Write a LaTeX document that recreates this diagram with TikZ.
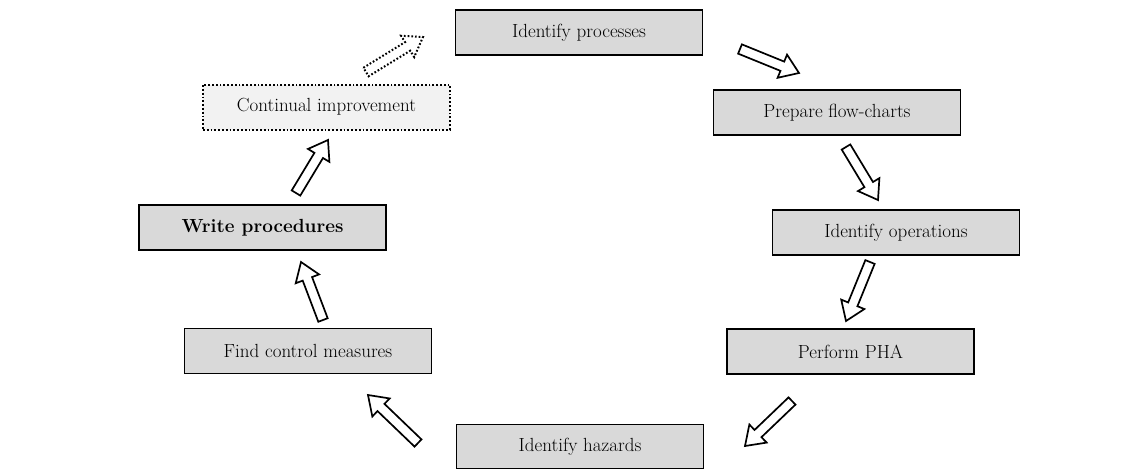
\documentclass[tikz,border=0pt]{standalone}
\usetikzlibrary{calc}
\definecolor{boxgray}{HTML}{D9D9D9}
\definecolor{lightbox}{HTML}{F2F2F2}
\tikzset{
  box/.style={draw=black, line width=1.8pt, fill=boxgray, font=\fontsize{19}{22}\selectfont, inner sep=0pt,
    minimum width=247pt, minimum height=45pt},
  arr/.style={draw=black, line width=1.7pt, fill=white, line join=miter},
  dotarr/.style={dotted, line width=2pt}
}
\newcommand\myarrow[3][]{%
  \path ($(#3)!18pt!(#2)$) coordinate (hh);
  \draw[arr,#1] ($(#2)!5pt!90:(#3)$) -- ($(hh)!5pt!90:(#3)$) -- ($(hh)!12.5pt!90:(#3)$) -- (#3)
    -- ($(hh)!12.5pt!-90:(#3)$) -- ($(hh)!5pt!-90:(#3)$) -- ($(#2)!5pt!-90:(#3)$) -- cycle;}
\begin{document}
\begin{tikzpicture}[x=1pt,y=-1pt]
\useasboundingbox (0,0) rectangle (1143,469);
% boxes
\node[box] (proc) at (579,32.5) {Identify processes};
\node[box] (flow) at (837,112.5) {Prepare flow-charts};
\node[box] (ops) at (896,232.5) {Identify operations};
\node[box] (pha) at (850.5,351.5) {Perform PHA};
\node[box, minimum height=44pt] (haz) at (580,446.5) {Identify hazards};
\node[box] (find) at (308,351) {Find control measures};
\node[box, font=\fontsize{19}{22}\selectfont\bfseries] (write) at (262.5,227.5) {Write procedures};
\node[box, dotted, line width=2pt, fill=lightbox] (cont) at (326.5,107) {Continual improvement};
% arrow end points
\coordinate (a1t) at (366,72);  \coordinate (a1h) at (423,37);
\coordinate (a2t) at (740,49);  \coordinate (a2h) at (799,73);
\coordinate (a3t) at (846,147); \coordinate (a3h) at (878,200);
\coordinate (a4t) at (870,262); \coordinate (a4h) at (846,321);
\coordinate (a5t) at (792,401); \coordinate (a5h) at (745,446);
\coordinate (a6t) at (418,443); \coordinate (a6h) at (368,395);
\coordinate (a7t) at (323,320); \coordinate (a7h) at (301,262);
\coordinate (a8t) at (296,193); \coordinate (a8h) at (328,140);
\myarrow[dotarr]{a1t}{a1h}
\myarrow{a2t}{a2h}
\myarrow{a3t}{a3h}
\myarrow{a4t}{a4h}
\myarrow{a5t}{a5h}
\myarrow{a6t}{a6h}
\myarrow{a7t}{a7h}
\myarrow{a8t}{a8h}
\end{tikzpicture}
\end{document}
